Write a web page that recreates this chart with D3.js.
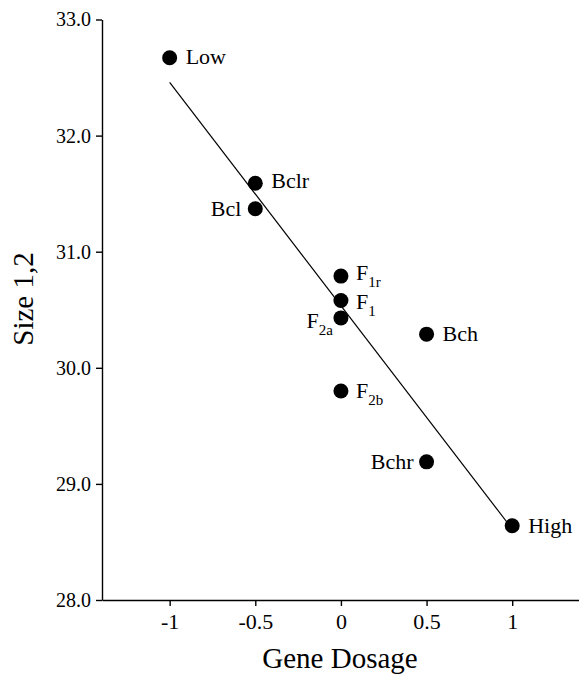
<!DOCTYPE html>
<html>
<head>
  <meta charset="utf-8">
  <title>Size vs Gene Dosage</title>
  <style>
    body { margin: 0; background-color: white; }
    svg { display: block; }
    text { font-family: "Liberation Serif", "Times New Roman", serif; fill: black; }
  </style>
</head>
<body>
  <svg width="579" height="678"></svg>

  <script src="https://d3js.org/d3.v7.min.js"></script>
  <script>
    // data
    const names = ["Low", "Bclr", "Bcl", "F", "F", "F", "Bch", "F", "Bchr", "High"];
    const subs = ["", "", "", "1r", "1", "2a", "", "2b", "", ""];
    const dosage = [-1, -0.5, -0.5, 0, 0, 0, 0.5, 0, 0.5, 1];
    const size = [32.67, 31.59, 31.37, 30.79, 30.58, 30.43, 30.29, 29.80, 29.19, 28.64];
    const xTicks = [-1, -0.5, 0, 0.5, 1];
    const yTicks = [28, 29, 30, 31, 32, 33];

    // label placement (dx, dy from dot centre, anchor)
    const place = [
      [16, 6, "start"], [16, 5, "start"], [-14, 7, "end"], [15, 4, "start"], [15, 9, "start"],
      [-8, 10, "end"], [16, 7, "start"], [15, 7, "start"], [-13, 7, "end"], [16, 7, "start"]
    ];

    const svg = d3.select("svg");
    const x = d3.scaleLinear().domain([-1.395, 1.39]).range([102, 579]);
    const y = d3.scaleLinear().domain([28, 33]).range([600, 19.5]);

    // x axis
    const xAxis = svg.append("g")
      .attr("transform", `translate(0,${y(28)})`)
      .call(d3.axisBottom(x).tickValues(xTicks).tickFormat(d => String(d)).tickSize(6).tickPadding(7).tickSizeOuter(0));
    xAxis.attr("font-family", null);
    xAxis.selectAll("text").attr("font-size", 22);

    // y axis
    const yAxis = svg.append("g")
      .attr("transform", `translate(${x.range()[0]},0)`)
      .call(d3.axisLeft(y).tickValues(yTicks).tickFormat(d3.format(".1f")).tickSize(6).tickPadding(5).tickSizeOuter(0));
    yAxis.attr("font-family", null);
    yAxis.selectAll("text").attr("font-size", 20);
    svg.selectAll(".domain, .tick line").attr("stroke", "black").attr("stroke-width", 1.4);

    // axis titles
    svg.append("text")
      .attr("x", 340).attr("y", 668)
      .attr("text-anchor", "middle")
      .attr("font-size", 29)
      .text("Gene Dosage");
    svg.append("text")
      .attr("transform", "translate(33,299) rotate(-90)")
      .attr("text-anchor", "middle")
      .attr("font-size", 29)
      .text("Size 1,2");

    // regression line over the points
    const mx = d3.mean(dosage), my = d3.mean(size);
    const slope = d3.sum(dosage, (d, i) => (d - mx) * (size[i] - my)) / d3.sum(dosage, d => (d - mx) ** 2);
    const fit = v => my + slope * (v - mx);
    const ext = d3.extent(dosage);
    svg.append("line")
      .attr("x1", x(ext[0])).attr("y1", y(fit(ext[0])))
      .attr("x2", x(ext[1])).attr("y2", y(fit(ext[1])))
      .attr("stroke", "black").attr("stroke-width", 1.2);

    const idx = d3.range(names.length);

    // points
    svg.selectAll("circle.pt")
      .data(idx)
      .enter()
      .append("circle")
      .attr("class", "pt")
      .attr("cx", i => x(dosage[i]))
      .attr("cy", i => y(size[i]))
      .attr("r", 7.5)
      .attr("fill", "black");

    // point labels
    const lab = svg.selectAll("text.lab")
      .data(idx)
      .enter()
      .append("text")
      .attr("class", "lab")
      .attr("x", i => x(dosage[i]) + place[i][0])
      .attr("y", i => y(size[i]) + place[i][1])
      .attr("text-anchor", i => place[i][2])
      .attr("font-size", 22);
    lab.append("tspan").text(i => names[i]);
    lab.filter(i => subs[i] !== "")
      .append("tspan")
      .attr("font-size", 15)
      .attr("dy", 7)
      .text(i => subs[i]);
  </script>
</body>
</html>
